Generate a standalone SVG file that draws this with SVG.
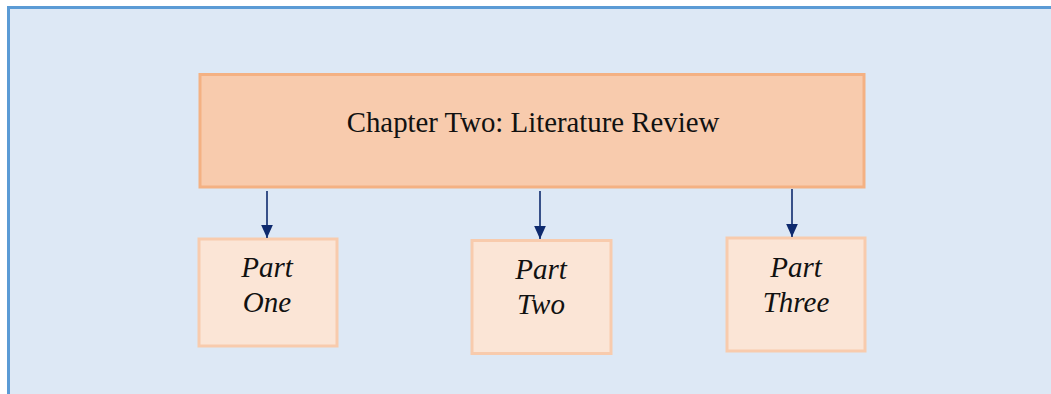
<svg xmlns="http://www.w3.org/2000/svg" width="1051" height="394" viewBox="0 0 1051 394">
  <defs>
    <marker id="arrow" viewBox="0 0 10 10" refX="10" refY="5" markerWidth="13" markerHeight="13" markerUnits="userSpaceOnUse" orient="auto">
      <path d="M0,0.5 L10,5 L0,9.5 z" fill="#0e2a6e"/>
    </marker>
    <style>
      .panel { fill: #dde8f5; stroke: #5b9bd5; stroke-width: 3; }
      .head { fill: #f8cbad; stroke: #f4b183; stroke-width: 3; }
      .part { fill: #fbe5d6; stroke: #f8cbad; stroke-width: 3; }
      .title { font-family: "Liberation Serif", "Times New Roman", serif; font-size: 28.8px; fill: #111; text-anchor: middle; }
      .label { font-family: "Liberation Serif", "Times New Roman", serif; font-size: 29px; font-style: italic; fill: #111; text-anchor: middle; }
      .conn { stroke: #0e2a6e; stroke-width: 1.6; fill: none; marker-end: url(#arrow); }
    </style>
  </defs>

  <rect width="1051" height="394" fill="#ffffff"/>
  <!-- background panel, continues past the right and bottom edges -->
  <rect class="panel" x="8.5" y="7.5" width="1060" height="400"/>

  <g id="chapter">
    <rect class="head" x="200" y="74.5" width="664" height="112.5"/>
    <text class="title" x="533" y="132">Chapter Two: Literature Review</text>
  </g>

  <g id="part-one">
    <rect class="part" x="199" y="239" width="138" height="107"/>
    <text class="label" x="267" y="277">Part</text>
    <text class="label" x="267" y="312">One</text>
  </g>

  <g id="part-two">
    <rect class="part" x="472" y="240.5" width="139" height="113"/>
    <text class="label" x="541" y="279">Part</text>
    <text class="label" x="541" y="314">Two</text>
  </g>

  <g id="part-three">
    <rect class="part" x="727" y="238" width="138" height="113"/>
    <text class="label" x="796" y="277">Part</text>
    <text class="label" x="796" y="312">Three</text>
  </g>

  <g id="connectors">
    <line class="conn" x1="267" y1="191" x2="267" y2="238"/>
    <line class="conn" x1="540" y1="191" x2="540" y2="239"/>
    <line class="conn" x1="792" y1="189" x2="792" y2="237"/>
  </g>
</svg>
